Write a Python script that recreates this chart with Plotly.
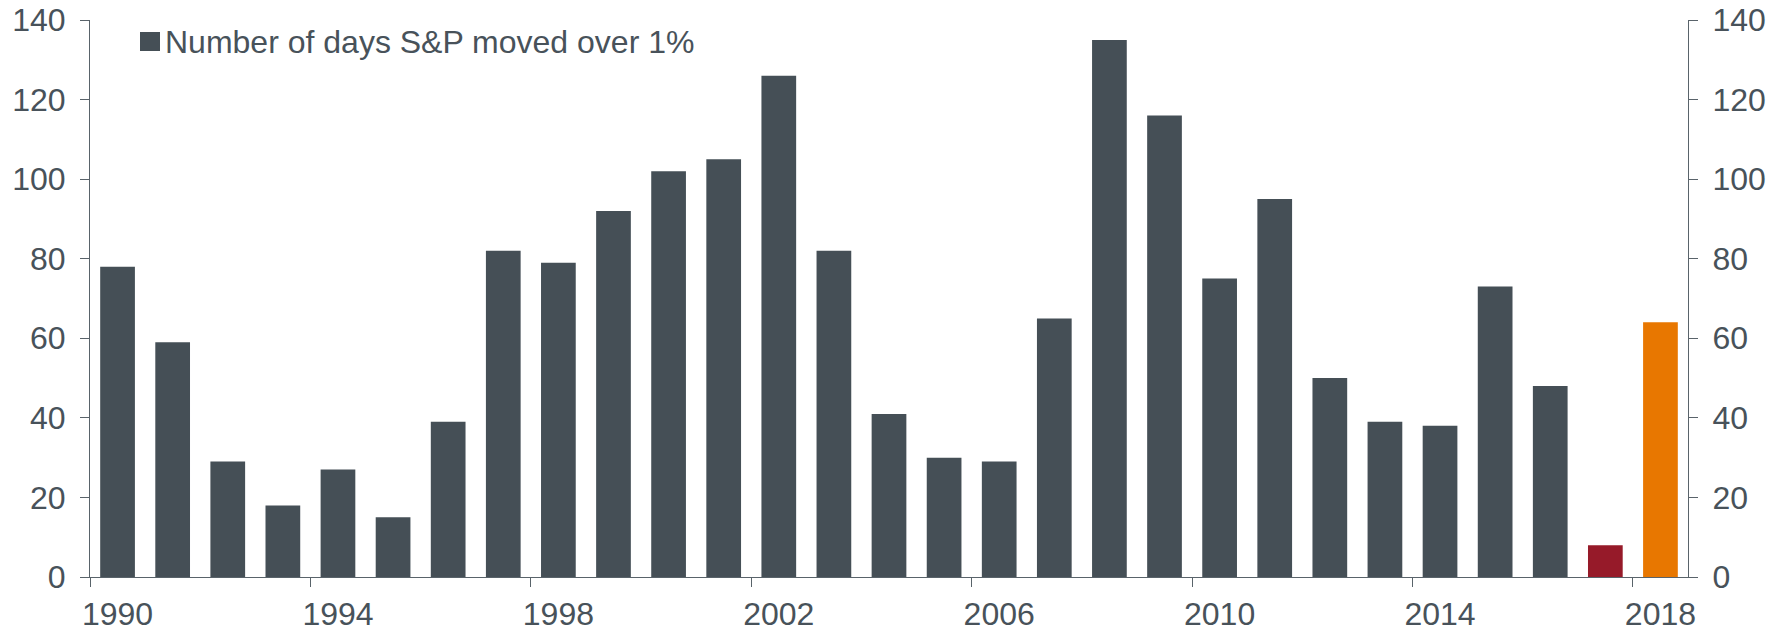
import plotly.graph_objects as go

years = list(range(1990, 2019))
days_over_1pct = [78, 59, 29, 18, 27, 15, 39, 82, 79, 92, 102, 105, 126, 82, 41,
                  30, 29, 65, 135, 116, 75, 95, 50, 39, 38, 73, 48, 8, 64]
tick_years = years[::4]
tick_labels = [str(y) for y in tick_years]
legend_label = "Number of days S&P moved over 1%"

DARK = "#454F56"
RED = "#961A29"
ORANGE = "#E87700"
TEXT = "#48525A"
AXIS = "#59636A"
FONT = "Liberation Sans, Arial, sans-serif"
FS = 32

highlight = {2017: RED, 2018: ORANGE}
bar_colors = [highlight.get(y, DARK) for y in years]

fig = go.Figure()
fig.add_trace(go.Bar(x=years, y=days_over_1pct, marker=dict(color=bar_colors, line=dict(width=0)),
                     showlegend=False, name=legend_label))
fig.add_trace(go.Scatter(x=[None], y=[None], yaxis="y2", showlegend=False, hoverinfo="skip"))

axis_common = dict(range=[0, 140], dtick=20, tick0=0, ticks="outside", ticklen=9, tickwidth=1,
                   tickcolor=AXIS, showline=True, linecolor=AXIS, linewidth=1,
                   ticklabelstandoff=8, automargin=False,
                   showgrid=False, zeroline=False, tickfont=dict(size=FS, color=TEXT, family=FONT))

fig.update_layout(
    width=1787, height=631,
    margin=dict(l=90, r=99, t=20, b=54),
    paper_bgcolor="white", plot_bgcolor="white",
    bargap=0.37,
    font=dict(family=FONT, color=TEXT, size=FS),
    xaxis=dict(type="linear", range=[years[0] - 0.5, years[-1] + 0.5],
               tickmode="array", tickvals=tick_years, ticktext=tick_labels, ticks="",
               ticklabelstandoff=9, automargin=False,
               showline=True, linecolor=AXIS, linewidth=1, showgrid=False, zeroline=False,
               tickfont=dict(size=FS, color=TEXT, family=FONT),
               minor=dict(tickmode="array", tickvals=[y - 0.5 for y in tick_years],
                          ticks="outside", ticklen=9, tickwidth=1, tickcolor=AXIS, showgrid=False)),
    yaxis=dict(side="left", **axis_common),
    yaxis2=dict(side="right", overlaying="y", anchor="x", **axis_common),
    showlegend=False,
)

# legend swatch + label
fig.add_shape(type="rect", xref="paper", yref="paper", x0=0.0313, x1=0.0438, y0=0.9443, y1=0.9785,
              fillcolor=DARK, line=dict(width=0))
fig.add_annotation(text=legend_label, xref="paper", yref="paper", x=0.0457, y=0.9605,
                   xanchor="left", yanchor="middle", showarrow=False,
                   font=dict(size=FS, color=TEXT, family=FONT))

fig.write_html("out.html")
